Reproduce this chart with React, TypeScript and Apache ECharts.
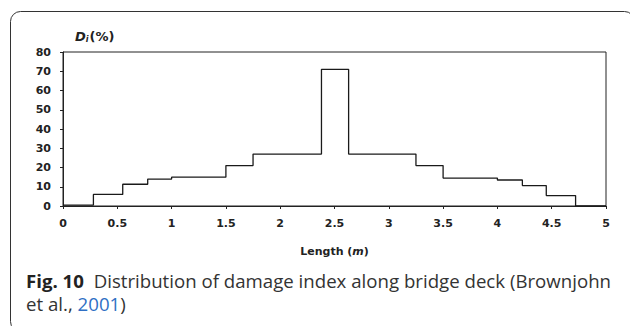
import React, { useEffect, useRef } from "react";
import * as echarts from "echarts";

// Segment boundaries along the deck (m) and damage index per segment (%)
const boundaries = [0, 0.28, 0.55, 0.78, 1.0, 1.5, 1.75, 2.38, 2.63, 3.25, 3.5, 4.0, 4.23, 4.45, 4.72, 5.0];
const damageIndex = [0.5, 6, 11.3, 14, 15, 21, 27, 71, 27, 21, 14.5, 13.5, 10.6, 5.4, 0];
const yTicks = { min: 0, max: 80, interval: 10 };
const xTicks = { min: 0, max: 5, interval: 0.5 };
const captionBold = "Fig. 10";
const captionLine1 = "Distribution of damage index along bridge deck (Brownjohn";
const captionLine2a = "et al., ";
const captionYear = "2001";
const captionLine2b = ")";

export default function App() {
  const ref = useRef<HTMLDivElement>(null);
  useEffect(() => {
    if (!ref.current) return;
    const chart = echarts.init(ref.current, null, { renderer: "svg" });
    const data: [number, number][] = boundaries.map((x, i) => [
      x,
      i < damageIndex.length ? damageIndex[i] : damageIndex[damageIndex.length - 1],
    ]);
    const axisFont = { fontFamily: "DejaVu Sans", fontWeight: "bold" as const, fontSize: 11, color: "#222" };
    const capFont = { fontFamily: "Open Sans", fontSize: 17.5 };
    chart.setOption({
      animation: false,
      backgroundColor: "#fff",
      grid: {
        left: 63,
        right: 24,
        top: 52,
        bottom: 120,
        show: true,
        borderColor: "#222",
        borderWidth: 1,
      },
      xAxis: {
        type: "value",
        min: xTicks.min,
        max: xTicks.max,
        interval: xTicks.interval,
        name: "{a|Length (}{m|m}{a|)}",
        nameLocation: "middle",
        nameGap: 40,
        nameTextStyle: {
          rich: {
            a: { ...axisFont },
            m: { ...axisFont, fontStyle: "italic" },
          },
        },
        axisLine: { show: true, lineStyle: { color: "#222", width: 1 } },
        axisTick: { show: true, inside: false, length: 3, lineStyle: { color: "#222" } },
        axisLabel: { ...axisFont, margin: 12 },
        splitLine: { show: false },
      },
      yAxis: {
        type: "value",
        min: yTicks.min,
        max: yTicks.max,
        interval: yTicks.interval,
        name: "{d|D}{i|i}{p|(%)}",
        nameLocation: "end",
        nameGap: 9,
        nameTextStyle: {
          align: "left",
          padding: [0, 0, 0, 12],
          rich: {
            d: { ...axisFont, fontStyle: "italic", fontSize: 13 },
            i: { ...axisFont, fontStyle: "italic", fontSize: 8, verticalAlign: "bottom", padding: [6, 1, 0, 0] },
            p: { ...axisFont, fontSize: 13 },
          },
        },
        axisLine: { show: true, lineStyle: { color: "#222", width: 1 } },
        axisTick: { show: true, inside: false, length: 3, lineStyle: { color: "#222" } },
        axisLabel: { ...axisFont, margin: 12 },
        splitLine: { show: false },
      },
      series: [
        {
          type: "line",
          step: "end",
          data,
          symbol: "none",
          lineStyle: { color: "#1a1a1a", width: 1.3 },
        },
      ],
      graphic: [
        {
          type: "rect",
          shape: { x: 10.5, y: 11.5, width: 624, height: 320, r: 10 },
          style: { fill: "none", stroke: "#333", lineWidth: 1 },
          silent: true,
        },
        {
          type: "text",
          x: 26,
          y: 281,
          scaleX: 1.066,
          style: {
            x: 0,
            y: 0,
            verticalAlign: "middle",
            text: `{b|${captionBold}}{r|  ${captionLine1}}`,
            rich: {
              b: { ...capFont, fontWeight: "bold", fill: "#222" },
              r: { ...capFont, fill: "#333" },
            },
          },
        },
        {
          type: "text",
          x: 26,
          y: 304,
          scaleX: 1.066,
          style: {
            x: 0,
            y: 0,
            verticalAlign: "middle",
            text: `{r|${captionLine2a}}{l|${captionYear}}{r|${captionLine2b}}`,
            rich: {
              r: { ...capFont, fill: "#333" },
              l: { ...capFont, fill: "#2f6fc4" },
            },
          },
        },
      ],
    });
    return () => chart.dispose();
  }, []);
  return (
    <div
      ref={ref}
      style={{ position: "fixed", left: 0, top: 0, width: 630, height: 326 }}
    />
  );
}
